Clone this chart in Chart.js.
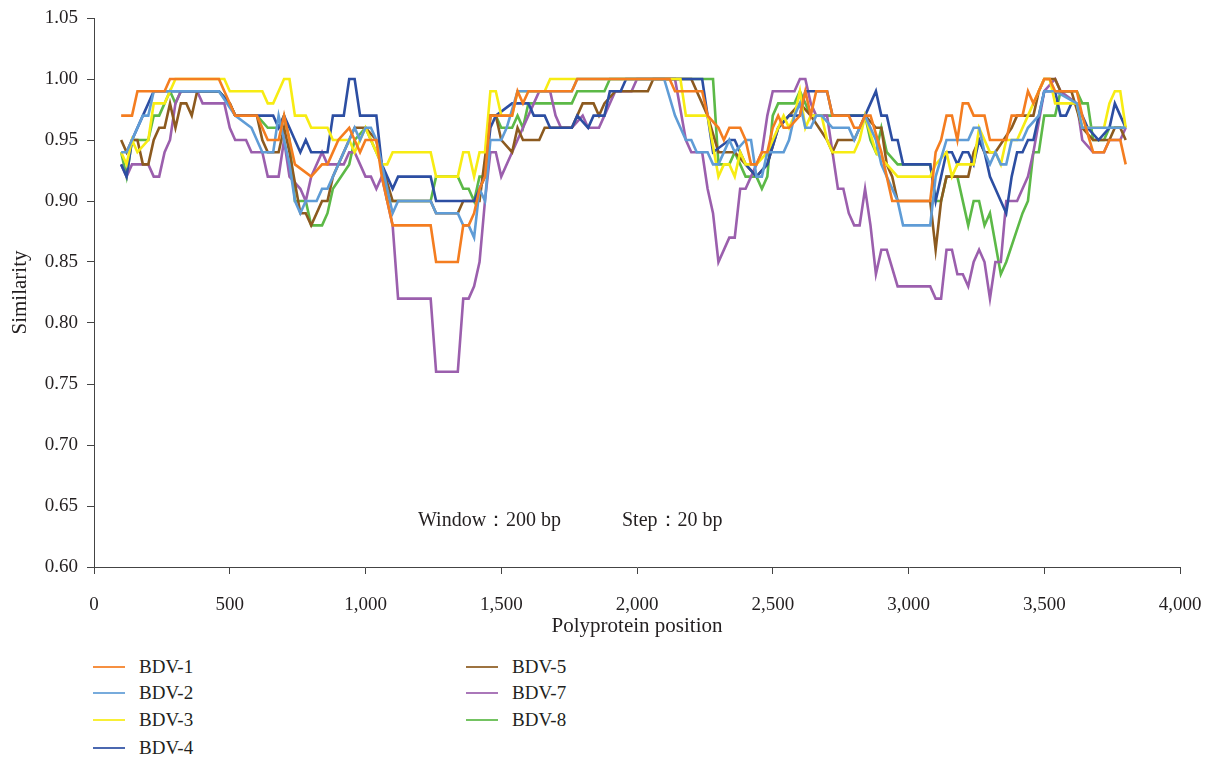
<!DOCTYPE html>
<html>
<head>
<meta charset="utf-8">
<script src="https://cdn.jsdelivr.net/npm/chart.js@4.4.1/dist/chart.umd.min.js"></script>
<style>
  body { margin: 0; background: #fff; }
  #wrap { position: relative; width: 1209px; height: 640px; }
  #legend { position: absolute; left: 0; top: 640px; width: 1209px; height: 121px;
            font-family: "Liberation Serif", "DejaVu Serif", serif; font-size: 19px; color: #231f20; }
  .item { position: absolute; height: 22px; line-height: 22px; }
  .item span.ln { position: absolute; left: 0; top: 10px; width: 32px; height: 2px; }
  .item span.tx { position: absolute; left: 46px; top: 0; white-space: nowrap; }
</style>
</head>
<body>
<div id="wrap"><canvas id="grafica"></canvas></div>
<div id="legend"></div>
<script>
// [polyprotein position, similarity]
var bdv1 = [[100,0.97],[140,0.97],[160,0.99],[260,0.99],[280,1.00],[460,1.00],[520,0.97],[600,0.97],[640,0.95],[680,0.95],
  [700,0.97],[740,0.93],[800,0.92],[840,0.93],[860,0.93],[900,0.95],[940,0.96],[980,0.94],[1000,0.95],[1040,0.95],[1060,0.92],
  [1080,0.90],[1100,0.88],[1240,0.88],[1260,0.85],[1340,0.85],[1360,0.88],[1380,0.88],[1400,0.89],[1420,0.91],[1440,0.92],
  [1460,0.97],[1540,0.97],[1560,0.99],[1580,0.98],[1600,0.99],[1760,0.99],[1780,1.00],[2120,1.00],[2140,0.99],[2240,0.99],
  [2260,0.97],[2300,0.96],[2320,0.95],[2340,0.96],[2380,0.96],[2400,0.95],[2420,0.93],[2440,0.93],[2460,0.94],[2480,0.94],
  [2500,0.96],[2520,0.97],[2540,0.96],[2560,0.96],[2600,0.97],[2620,0.99],[2640,0.97],[2660,0.99],[2700,0.99],[2720,0.97],
  [2780,0.97],[2800,0.96],[2820,0.96],[2840,0.97],[2860,0.97],[2900,0.94],[2920,0.92],[2940,0.90],[3080,0.90],[3100,0.94],
  [3120,0.95],[3140,0.97],[3160,0.97],[3180,0.95],[3200,0.98],[3220,0.98],[3240,0.97],[3280,0.97],[3300,0.95],[3360,0.95],
  [3380,0.97],[3420,0.97],[3440,0.99],[3460,0.98],[3500,1.00],[3520,1.00],[3540,0.99],[3620,0.99],[3640,0.97],[3680,0.94],
  [3720,0.94],[3740,0.95],[3780,0.95],[3800,0.93]];
var bdv2 = [[100,0.94],[120,0.94],[140,0.95],[180,0.97],[200,0.97],[220,0.99],[460,0.99],[520,0.97],[580,0.96],[620,0.94],
  [660,0.94],[680,0.97],[720,0.93],[740,0.90],[760,0.89],[780,0.90],[820,0.90],[840,0.91],[860,0.91],[880,0.92],[940,0.95],
  [960,0.96],[980,0.95],[1000,0.96],[1020,0.96],[1040,0.95],[1060,0.93],[1080,0.91],[1100,0.89],[1120,0.90],[1240,0.90],
  [1260,0.89],[1340,0.89],[1360,0.88],[1380,0.88],[1400,0.87],[1420,0.91],[1440,0.90],[1460,0.95],[1500,0.95],[1520,0.96],
  [1560,0.99],[1760,0.99],[1780,1.00],[2100,1.00],[2140,0.97],[2160,0.96],[2180,0.95],[2200,0.95],[2220,0.94],[2260,0.94],
  [2280,0.93],[2300,0.93],[2340,0.95],[2360,0.94],[2400,0.95],[2420,0.95],[2440,0.92],[2460,0.92],[2480,0.94],[2540,0.94],
  [2560,0.95],[2580,0.97],[2600,0.98],[2620,0.96],[2640,0.96],[2660,0.97],[2680,0.97],[2720,0.96],[2780,0.96],[2800,0.95],
  [2820,0.96],[2840,0.97],[2880,0.95],[2900,0.93],[2920,0.92],[2960,0.90],[2980,0.88],[3080,0.88],[3100,0.92],[3140,0.95],
  [3220,0.95],[3240,0.96],[3260,0.96],[3280,0.94],[3300,0.93],[3320,0.94],[3340,0.93],[3360,0.93],[3380,0.95],[3420,0.95],
  [3440,0.96],[3480,0.97],[3500,0.99],[3540,0.99],[3620,0.98],[3640,0.96],[3800,0.96]];
var bdv3 = [[100,0.94],[120,0.93],[140,0.95],[160,0.94],[200,0.95],[220,0.98],[260,0.98],[280,0.99],[300,1.00],[480,1.00],
  [500,0.99],[620,0.99],[640,0.98],[660,0.98],[680,0.99],[700,1.00],[720,1.00],[740,0.97],[780,0.97],[800,0.96],[860,0.96],
  [880,0.95],[940,0.95],[960,0.94],[1000,0.96],[1020,0.95],[1060,0.93],[1080,0.93],[1100,0.94],[1240,0.94],[1260,0.92],
  [1340,0.92],[1360,0.94],[1380,0.94],[1400,0.92],[1420,0.94],[1440,0.94],[1460,0.99],[1480,0.99],[1500,0.97],[1540,0.97],
  [1560,0.99],[1660,0.99],[1680,1.00],[2160,1.00],[2180,0.97],[2260,0.97],[2300,0.92],[2320,0.93],[2340,0.93],[2360,0.92],
  [2380,0.94],[2400,0.93],[2440,0.93],[2480,0.94],[2520,0.96],[2540,0.97],[2560,0.96],[2580,0.97],[2600,0.99],[2620,0.96],
  [2640,0.97],[2680,0.97],[2700,0.95],[2720,0.94],[2800,0.94],[2820,0.95],[2840,0.97],[2880,0.94],[2920,0.93],[2960,0.92],
  [3080,0.92],[3100,0.93],[3140,0.94],[3160,0.92],[3180,0.93],[3240,0.93],[3260,0.96],[3280,0.95],[3300,0.94],[3320,0.94],
  [3340,0.93],[3360,0.95],[3400,0.95],[3440,0.97],[3460,0.98],[3500,1.00],[3520,1.00],[3540,0.98],[3620,0.98],[3640,0.96],
  [3720,0.96],[3740,0.98],[3760,0.99],[3780,0.99],[3800,0.96]];
var bdv4 = [[100,0.93],[120,0.92],[140,0.95],[180,0.97],[220,0.99],[460,0.99],[500,0.98],[520,0.97],[660,0.97],[680,0.96],
  [700,0.97],[720,0.96],[760,0.94],[780,0.95],[800,0.94],[860,0.94],[880,0.97],[920,0.97],[940,1.00],[960,1.00],[980,0.97],
  [1040,0.97],[1060,0.93],[1100,0.91],[1120,0.92],[1240,0.92],[1260,0.90],[1400,0.90],[1440,0.92],[1460,0.96],[1480,0.97],
  [1540,0.98],[1600,0.98],[1620,0.97],[1660,0.97],[1680,0.96],[1760,0.96],[1780,0.97],[1820,0.96],[1840,0.97],[1880,0.97],
  [1900,0.99],[1940,0.99],[1960,1.00],[2240,1.00],[2260,0.97],[2280,0.94],[2340,0.95],[2360,0.95],[2380,0.94],[2400,0.93],
  [2440,0.92],[2480,0.93],[2520,0.96],[2560,0.97],[2600,0.97],[2620,0.99],[2700,0.99],[2720,0.97],[2840,0.97],[2880,0.99],
  [2900,0.97],[2920,0.97],[2940,0.95],[2960,0.95],[2980,0.93],[3080,0.93],[3100,0.90],[3120,0.92],[3140,0.94],[3160,0.94],
  [3180,0.93],[3200,0.94],[3220,0.94],[3240,0.93],[3260,0.95],[3280,0.94],[3300,0.92],[3320,0.91],[3340,0.90],[3360,0.89],
  [3380,0.92],[3400,0.94],[3420,0.94],[3440,0.95],[3460,0.95],[3500,0.99],[3540,0.99],[3560,0.97],[3580,0.97],[3600,0.98],
  [3620,0.98],[3660,0.96],[3700,0.95],[3740,0.96],[3760,0.98],[3780,0.97],[3800,0.96]];
var bdv5 = [[100,0.95],[120,0.94],[140,0.95],[160,0.95],[180,0.93],[200,0.93],[220,0.95],[240,0.96],[260,0.96],[280,0.98],
  [300,0.96],[320,0.98],[340,0.98],[360,0.97],[380,0.99],[460,0.99],[500,0.98],[520,0.97],[600,0.97],[620,0.95],[640,0.94],
  [680,0.94],[700,0.96],[720,0.94],[760,0.89],[780,0.89],[800,0.88],[820,0.89],[840,0.90],[860,0.90],[880,0.92],[900,0.93],
  [940,0.95],[960,0.96],[1000,0.96],[1040,0.95],[1060,0.93],[1100,0.90],[1240,0.90],[1260,0.89],[1340,0.89],[1360,0.90],
  [1420,0.90],[1460,0.97],[1480,0.97],[1500,0.95],[1540,0.94],[1560,0.96],[1580,0.95],[1640,0.95],[1660,0.96],[1760,0.96],
  [1800,0.98],[1840,0.98],[1860,0.97],[1880,0.98],[1920,0.99],[2040,0.99],[2060,1.00],[2200,1.00],[2220,0.99],[2260,0.97],
  [2300,0.94],[2360,0.94],[2400,0.93],[2440,0.92],[2480,0.93],[2520,0.96],[2560,0.97],[2600,0.98],[2640,0.97],[2700,0.95],
  [2720,0.94],[2740,0.95],[2800,0.95],[2840,0.97],[2880,0.96],[2900,0.96],[2920,0.93],[2940,0.92],[2960,0.90],[3080,0.90],
  [3100,0.86],[3120,0.90],[3140,0.92],[3220,0.92],[3240,0.94],[3260,0.95],[3280,0.94],[3320,0.94],[3380,0.96],[3400,0.97],
  [3460,0.97],[3480,0.99],[3500,1.00],[3540,1.00],[3560,0.99],[3600,0.99],[3640,0.96],[3680,0.95],[3740,0.95],[3760,0.96],
  [3780,0.96],[3800,0.95]];
var bdv7 = [[100,0.93],[120,0.92],[140,0.93],[200,0.93],[220,0.92],[240,0.92],[260,0.94],[280,0.95],[300,0.98],[320,0.99],
  [380,0.99],[400,0.98],[480,0.98],[500,0.96],[520,0.95],[560,0.95],[580,0.94],[620,0.94],[640,0.92],[680,0.92],[700,0.95],
  [720,0.92],[760,0.91],[780,0.90],[800,0.92],[840,0.94],[860,0.93],[920,0.93],[940,0.94],[960,0.94],[980,0.93],[1000,0.92],
  [1020,0.92],[1040,0.91],[1060,0.92],[1080,0.90],[1100,0.88],[1120,0.82],[1240,0.82],[1260,0.76],[1340,0.76],[1360,0.82],
  [1380,0.82],[1400,0.83],[1420,0.85],[1440,0.90],[1460,0.94],[1480,0.94],[1500,0.92],[1540,0.94],[1580,0.96],[1620,0.98],
  [1640,0.99],[1680,0.99],[1700,0.97],[1720,0.96],[1760,0.96],[1800,0.97],[1820,0.96],[1860,0.96],[1880,0.97],[1920,0.99],
  [1980,0.99],[2000,1.00],[2140,1.00],[2180,0.95],[2200,0.94],[2240,0.94],[2260,0.91],[2280,0.89],[2300,0.85],[2340,0.87],
  [2360,0.87],[2380,0.91],[2400,0.91],[2420,0.92],[2460,0.94],[2480,0.97],[2500,0.99],[2580,0.99],[2600,1.00],[2620,1.00],
  [2640,0.98],[2660,0.97],[2700,0.97],[2720,0.94],[2740,0.91],[2760,0.91],[2780,0.89],[2800,0.88],[2820,0.88],[2840,0.91],
  [2860,0.88],[2880,0.84],[2900,0.86],[2920,0.86],[2960,0.83],[3080,0.83],[3100,0.82],[3120,0.82],[3140,0.86],[3160,0.86],
  [3180,0.84],[3200,0.84],[3220,0.83],[3240,0.85],[3260,0.86],[3280,0.85],[3300,0.82],[3320,0.85],[3340,0.85],[3360,0.90],
  [3400,0.90],[3420,0.91],[3440,0.92],[3460,0.94],[3500,0.99],[3540,1.00],[3560,0.99],[3620,0.98],[3640,0.95],[3680,0.94],
  [3720,0.94],[3740,0.95],[3780,0.95],[3800,0.96]];
var bdv8 = [[100,0.94],[120,0.92],[140,0.95],[200,0.95],[220,0.97],[240,0.97],[280,0.99],[300,0.98],[320,0.99],[460,0.99],
  [500,0.98],[520,0.97],[600,0.97],[640,0.96],[680,0.96],[700,0.97],[720,0.95],[740,0.90],[780,0.90],[800,0.88],[840,0.88],
  [860,0.89],[880,0.91],[940,0.93],[960,0.95],[1000,0.96],[1020,0.95],[1060,0.93],[1080,0.90],[1240,0.90],[1260,0.92],
  [1340,0.92],[1360,0.91],[1380,0.91],[1400,0.90],[1420,0.92],[1440,0.92],[1460,0.97],[1480,0.97],[1500,0.96],[1540,0.96],
  [1560,0.97],[1580,0.96],[1600,0.98],[1760,0.98],[1780,0.99],[1880,0.99],[1900,1.00],[2280,1.00],[2300,0.93],[2340,0.93],
  [2360,0.94],[2380,0.93],[2400,0.92],[2440,0.92],[2460,0.91],[2480,0.92],[2500,0.97],[2520,0.98],[2580,0.98],[2600,0.99],
  [2620,0.98],[2640,0.97],[2840,0.97],[2860,0.95],[2880,0.94],[2900,0.96],[2920,0.94],[2960,0.93],[3080,0.93],[3100,0.90],
  [3120,0.90],[3140,0.92],[3180,0.92],[3220,0.88],[3240,0.90],[3260,0.90],[3280,0.88],[3300,0.89],[3340,0.84],[3360,0.85],
  [3420,0.89],[3440,0.90],[3460,0.94],[3480,0.94],[3500,0.97],[3540,0.97],[3560,0.99],[3620,0.99],[3640,0.98],[3660,0.98],
  [3680,0.95],[3720,0.95],[3740,0.96],[3780,0.96],[3800,0.96]];

var nombres = ['BDV-1', 'BDV-2', 'BDV-3', 'BDV-4', 'BDV-5', 'BDV-7', 'BDV-8'];
var colores = ['#f47d20', '#5f9cd6', '#f7ec13', '#2c4ea2', '#8c5a1f', '#9b5fad', '#5cb947'];
var series = [bdv1, bdv2, bdv3, bdv4, bdv5, bdv7, bdv8];

var fuente = '"Liberation Serif", "DejaVu Serif", serif';

function puntos(pares) {
  var d = [];
  for (var i = 0; i < pares.length; i++) {
    d.push({x: pares[i][0], y: pares[i][1]});
  }
  return d;
}

var datasets = [];
for (var k = 0; k < series.length; k++) {
  datasets.push({
    label: nombres[k],
    data: puntos(series[k]),
    borderColor: colores[k],
    backgroundColor: colores[k],
    borderWidth: 2.6,
    pointRadius: 0,
    tension: 0
  });
}

// "Window : 200 bp   Step : 20 bp" note inside the plot
var nota = {
  id: 'nota',
  afterDatasetsDraw: function(chart) {
    var ctx = chart.ctx;
    ctx.save();
    ctx.fillStyle = '#231f20';
    ctx.font = '20px ' + fuente;
    ctx.textBaseline = 'middle';
    ctx.fillText('Window\uFF1A200 bp', 418, 521);
    ctx.fillText('Step\uFF1A20 bp', 622, 521);
    ctx.restore();
  }
};

var config = {
  type: 'line',
  data: { datasets: datasets },
  plugins: [nota],
  options: {
    responsive: false,
    animation: false,
    layout: { padding: { left: 0, right: 29, top: 18, bottom: 0 } },
    plugins: { legend: { display: false }, tooltip: { enabled: false } },
    scales: {
      x: {
        type: 'linear',
        min: 0, max: 4000,
        afterFit: function(s) { s.height = 73; s.paddingRight = 0; s.paddingLeft = 0; },
        grid: { drawOnChartArea: false, drawTicks: true, tickLength: 7, color: '#444' },
        border: { display: true, color: '#444', width: 1 },
        ticks: {
          stepSize: 500, color: '#231f20', padding: 20,
          font: { family: fuente, size: 19 },
          callback: function(v) { return v.toLocaleString('en-US'); }
        },
        title: { display: true, text: 'Polyprotein position', color: '#231f20', padding: { top: 0, bottom: 1 },
                 font: { family: fuente, size: 21 } }
      },
      y: {
        min: 0.6, max: 1.05,
        afterFit: function(s) { s.width = 94; s.paddingTop = 0; s.paddingBottom = 0; },
        grid: { drawOnChartArea: false, drawTicks: true, tickLength: 7, color: '#444' },
        border: { display: true, color: '#444', width: 1 },
        ticks: {
          stepSize: 0.05, color: '#231f20', padding: 9,
          font: { family: fuente, size: 19 },
          callback: function(v) { return v.toFixed(2); }
        },
        title: { display: true, text: 'Similarity', color: '#231f20', padding: { top: 8, bottom: 0 },
                 font: { family: fuente, size: 21 } }
      }
    }
  }
};

var canvas = document.getElementById('grafica');
canvas.width = 1209;
canvas.height = 640;
var grafica = new Chart(canvas, config);

// legend in two columns like the original
var legend = document.getElementById('legend');
var sitios = [[93, 27], [93, 53], [93, 80], [93, 108], [466, 27], [466, 53], [466, 80]];
for (var j = 0; j < nombres.length; j++) {
  var it = document.createElement('div');
  it.className = 'item';
  it.style.left = sitios[j][0] + 'px';
  it.style.top = (sitios[j][1] - 11) + 'px';
  it.innerHTML = '<span class="ln" style="background:' + colores[j] + ';opacity:0.85"></span><span class="tx">' + nombres[j] + '</span>';
  legend.appendChild(it);
}
</script>
</body>
</html>
